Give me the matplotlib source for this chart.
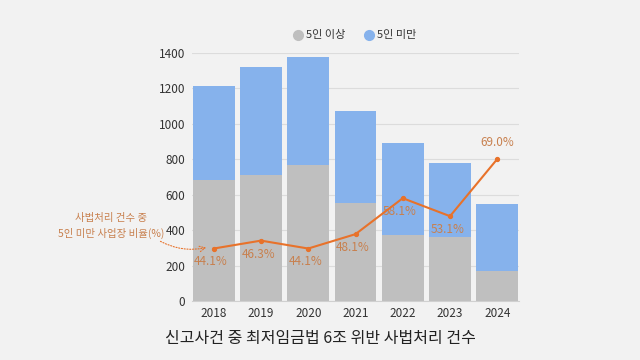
import matplotlib
matplotlib.use("Agg")
import matplotlib.pyplot as plt
from matplotlib.lines import Line2D
import numpy as np

plt.rcParams['font.family'] = ['Noto Sans CJK KR', 'DejaVu Sans']

years = ["2018", "2019", "2020", "2021", "2022", "2023", "2024"]
over5 = [683, 711, 768, 555, 373, 363, 170]
total = [1214, 1321, 1378, 1073, 890, 778, 548]
under5 = [t - o for t, o in zip(total, over5)]
ratio = [44.1, 46.3, 44.1, 48.1, 58.1, 53.1, 69.0]
yticks = [0, 200, 400, 600, 800, 1000, 1200, 1400]

bg = "#F2F2F2"
gray = "#BFBFBF"
blue = "#86B2EC"
orange = "#E8722A"
lab = "#C8804E"

fig = plt.figure(figsize=(6.4, 3.6), dpi=100, facecolor=bg)
ax = fig.add_axes([192/640, 1-301/360, 327/640, 248/360])
ax.set_facecolor(bg)
x = np.arange(len(years))
ax.bar(x, over5, width=0.88, color=gray, zorder=2)
ax.bar(x, under5, bottom=over5, width=0.88, color=blue, zorder=2)
ax.set_xlim(-0.46, 6.46)
ax.set_ylim(0, 1400)
ax.set_yticks(yticks)
ax.set_yticklabels([str(v) for v in yticks])
ax.set_xticks(x)
ax.set_xticklabels(years)
ax.yaxis.grid(True, color="#DCDCDC", linewidth=0.8, zorder=0)
for s in ["top", "right", "left"]:
    ax.spines[s].set_visible(False)
ax.spines["bottom"].set_color("#D0D0D0")
ax.tick_params(axis="both", length=0, labelsize=8.5, colors="#333333")
ax.tick_params(axis="y", pad=5)
ax.tick_params(axis="x", pad=4)

ax2 = ax.twinx()
ax2.set_ylim(29.5, 98.5)
ax2.axis("off")
ax2.plot(x, ratio, color=orange, linewidth=1.5, marker="o", markersize=2.8, zorder=5)
for i, r in enumerate(ratio):
    if i == len(ratio) - 1:
        ax2.annotate(f"{r:.1f}%", (x[i], r), xytext=(0, 7), textcoords="offset points",
                     ha="center", va="bottom", color=lab, fontsize=8.5)
    else:
        ax2.annotate(f"{r:.1f}%", (x[i], r), xytext=(-2, -5), textcoords="offset points",
                     ha="center", va="top", color=lab, fontsize=8.5)

# legend
for cx, col, txt in [(298, gray, "5인 이상"), (369, blue, "5인 미만")]:
    fig.add_artist(Line2D([cx/640], [1-35/360], marker="o", markersize=7, color=col,
                          linestyle="none", transform=fig.transFigure))
    fig.text((cx+8)/640, 1-35/360, txt, fontsize=8, va="center", ha="left", color="#333333")

# side annotation
fig.text(111/640, 1-226/360, "사법처리 건수 중\n5인 미만 사업장 비율(%)", fontsize=7.5,
         color=lab, ha="center", va="center", linespacing=1.55)
ax.annotate("", xy=(-0.1, 305), xycoords="data",
            xytext=(158/640, 1-240/360), textcoords="figure fraction",
            arrowprops=dict(arrowstyle="->", color=orange, linestyle=(0, (1, 1.5)),
                            linewidth=0.8, connectionstyle="arc3,rad=0.2"),
            annotation_clip=False)

fig.text(0.5, 1-338/360, "신고사건 중 최저임금법 6조 위반 사법처리 건수", fontsize=11.5,
         ha="center", va="center", color="#222222")

fig.savefig("out.png", dpi=100, facecolor=bg)
